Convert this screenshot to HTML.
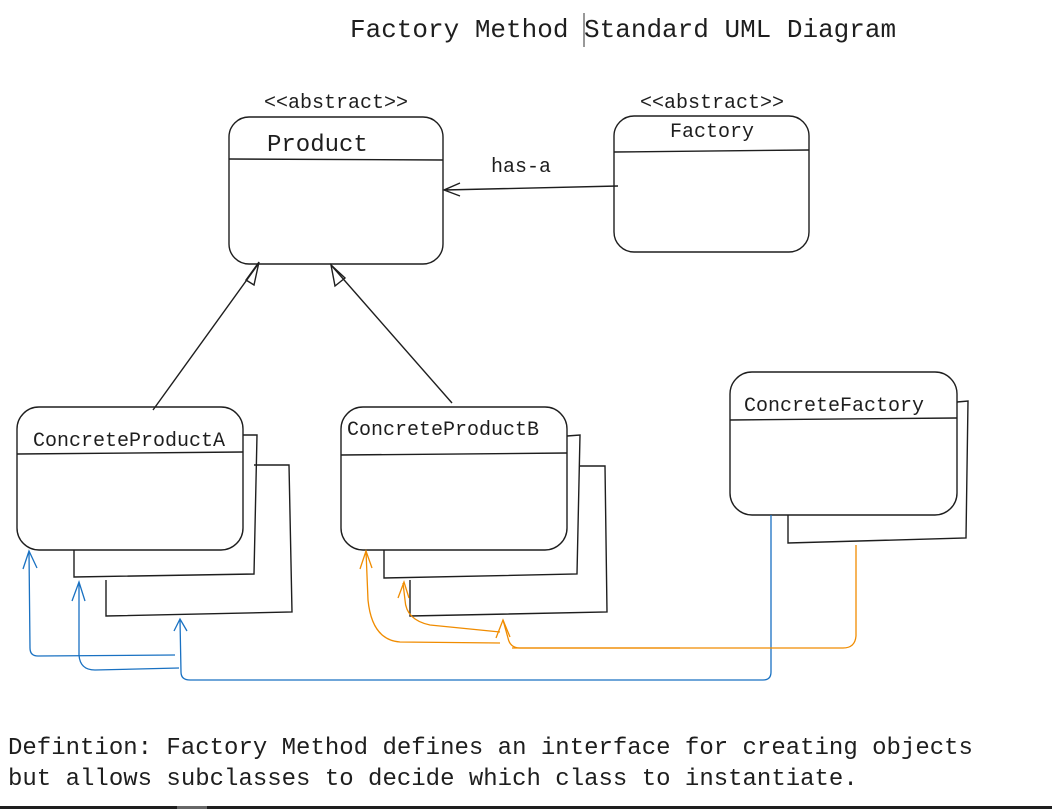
<!DOCTYPE html>
<html><head><style>
html,body{margin:0;padding:0;background:#fff;width:1052px;height:809px;overflow:hidden}
svg{display:block}
text{font-family:"Liberation Mono",monospace;fill:#1e1e1e}
</style></head><body>
<svg width="1052" height="809" viewBox="0 0 1052 809" xmlns="http://www.w3.org/2000/svg">
<text x="350" y="37" font-size="26">Factory Method Standard UML Diagram</text>
<line x1="584" y1="13" x2="584" y2="47" stroke="#333" stroke-width="1"/>

<g fill="none" stroke="#1e1e1e" stroke-width="1.4">
<!-- Product -->
<rect x="229" y="117" width="214" height="147" rx="20"/>
<line x1="229" y1="159" x2="443" y2="160"/>
<!-- Factory -->
<rect x="614" y="116" width="195" height="136" rx="20"/>
<line x1="614" y1="152" x2="809" y2="150"/>
<!-- has-a -->
<path d="M618,186 L444,190 M460,183 L444,190 L460,196"/>
<!-- CPA -->
<rect x="17" y="407" width="226" height="143" rx="22"/>
<line x1="17" y1="454" x2="243" y2="452"/>
<path d="M243,435 L257,435 L254,574 L74,577 L74,550"/>
<path d="M254,465 L289,465 L292,612 L106,616 L106,580"/>
<!-- CPB -->
<rect x="341" y="407" width="226" height="143" rx="22"/>
<line x1="341" y1="455" x2="567" y2="453"/>
<path d="M567,436 L580,435 L577,574 L384,578 L384,550"/>
<path d="M579,466 L605,466 L607,612 L410,616 L410,580"/>
<!-- CF -->
<rect x="730" y="372" width="227" height="143" rx="22"/>
<line x1="730" y1="420" x2="957" y2="418"/>
<path d="M957,402 L968,401 L966,538 L788,543 L788,515"/>
<!-- inheritance -->
<path d="M153,410 L259,263"/>
<path d="M246,280 L259,262 L254,285 Z"/>
<path d="M452,403 L331,265"/>
<path d="M331,265 L335,286 L345,278 Z"/>
</g>

<text x="264" y="108" font-size="20">&lt;&lt;abstract&gt;&gt;</text>
<text x="640" y="108" font-size="20">&lt;&lt;abstract&gt;&gt;</text>
<text x="267" y="151" font-size="24">Product</text>
<text x="670" y="137" font-size="20">Factory</text>
<text x="491" y="172" font-size="20">has-a</text>
<text x="33" y="446" font-size="20">ConcreteProductA</text>
<text x="347" y="435" font-size="20">ConcreteProductB</text>
<text x="744" y="411" font-size="20">ConcreteFactory</text>

<!-- blue -->
<g fill="none" stroke="#1971c2" stroke-width="1.3">
<path d="M771,515 L771,672 Q771,680 763,680 L190,680 Q181,680 181,672 L180,620"/>
<path d="M174,631 L180,619 L187,631"/>
<path d="M175,655 L38,656 Q30,656 30,648 L29,552"/>
<path d="M23,569 L29,551 L37,568"/>
<path d="M179,668 L95,670 Q80,670 79,655 L79,583"/>
<path d="M72,601 L79,582 L85,601"/>
</g>
<!-- orange -->
<g fill="none" stroke="#f08c00" stroke-width="1.3">
<path d="M856,545 L856,636 Q855,648 843,648 L520,648 Q510,648 508,638 L503,620"/>
<path d="M496,638 L503,620 L510,637"/>
<path d="M500,643 L400,642 Q372,640 368,600 L366,551"/>
<path d="M360,569 L366,551 L372,568"/>
<path d="M500,632 L430,625 Q406,620 405,600 L403,583"/>
<path d="M398,598 L404,582 L409,598"/>
<path d="M512,648 L680,648"/>
</g>

<text x="8" y="754" font-size="24">Defintion: Factory Method defines an interface for creating objects</text>
<text x="8" y="785" font-size="24">but allows subclasses to decide which class to instantiate.</text>
<rect x="0" y="806" width="1052" height="3" fill="#1e1e1e"/>
<rect x="177" y="806" width="30" height="3" fill="#666"/>
</svg>
</body></html>
